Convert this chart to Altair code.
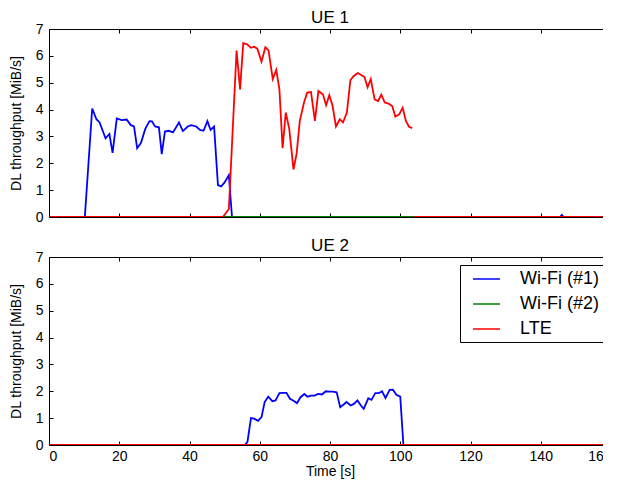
import altair as alt
import pandas as pd

# ---------------- data ----------------
series_names = ["Wi-Fi (#1)", "Wi-Fi (#2)", "LTE"]
series_colors = ["#0000ff", "#008000", "#ff0000"]

# UE 1 - Wi-Fi (#1)
ue1_wifi1_t = [0, 10.2, 12.3, 13.5, 14.4, 16.1, 17.2, 18.1, 19.3, 20.7, 22.1, 23.3, 24.2, 25.1,
               26.2, 27.4, 28.6, 29.3, 30.2, 31.3, 32.1, 33.0, 34.1, 35.3, 37.0, 38.1, 39.5, 40.5,
               41.9, 43.0, 44.0, 45.1, 46.0, 47.0, 48.1, 49.0, 50.0, 51.2, 52.1, 145.5, 146.0,
               146.5, 159.5]
ue1_wifi1_v = [0, 0, 4.04, 3.64, 3.52, 2.93, 3.09, 2.39, 3.67, 3.61, 3.63, 3.42, 3.37, 2.56,
               2.76, 3.28, 3.57, 3.56, 3.37, 3.34, 2.34, 3.18, 3.21, 3.15, 3.52, 3.20, 3.37, 3.42,
               3.37, 3.24, 3.21, 3.57, 3.24, 3.37, 1.19, 1.14, 1.29, 1.56, 0, 0, 0.08,
               0, 0]

# UE 1 - Wi-Fi (#2)
ue1_wifi2_t = [0, 159.5]
ue1_wifi2_v = [0, 0]

# UE 1 - LTE (first segment, then a separate zero segment)
ue1_lte_t = [0, 49.5, 51.2, 53.4, 54.4, 55.3, 56.4, 57.5, 58.4, 59.3, 60.5, 61.6, 62.5, 63.7,
             64.7, 65.6, 66.5, 67.4, 68.4, 69.6, 70.5, 71.4, 72.6, 73.5, 74.6, 75.7, 76.7, 78.0,
             78.9, 79.8, 80.7, 81.7, 82.8, 83.7, 84.8, 85.8, 86.7, 87.9, 88.8, 89.8, 90.7, 91.6,
             92.7, 93.7, 94.6, 95.6, 96.7, 97.7, 98.6, 99.7, 100.7, 101.6, 102.5, 103.4]
ue1_lte_v = [0, 0, 0.3, 6.2, 4.75, 6.47, 6.43, 6.3, 6.34, 6.27, 5.79, 6.32, 6.2, 5.14,
             5.48, 4.75, 2.56, 3.89, 3.28, 1.77, 2.36, 3.58, 4.26, 4.63, 4.65, 3.58, 4.69, 4.56,
             4.16, 4.53, 4.16, 3.37, 3.64, 3.52, 3.89, 5.09, 5.24, 5.36, 5.30, 5.21, 4.83, 5.14,
             4.38, 4.32, 4.56, 4.26, 4.22, 4.13, 3.74, 3.82, 4.07, 3.58, 3.36, 3.31]
ue1_lte_tail_t = [104.0, 159.5]
ue1_lte_tail_v = [0, 0]

# UE 2 - Wi-Fi (#1)
ue2_wifi1_t = [0, 55.8, 56.5, 57.5, 58.4, 59.5, 60.5, 61.4, 62.4, 63.6, 64.5, 65.6, 66.6, 67.6,
               68.6, 69.5, 70.6, 71.6, 72.7, 73.6, 74.6, 75.6, 76.6, 77.7, 78.8, 79.8, 80.8, 81.9,
               82.9, 83.8, 84.7, 85.9, 86.8, 87.8, 88.8, 89.6, 90.9, 91.8, 92.9, 93.9, 94.8, 95.8,
               97.0, 97.9, 98.9, 100.0, 100.9, 159.5]
ue2_wifi1_v = [0, 0, 0.12, 1.0, 0.98, 0.90, 1.04, 1.6, 1.80, 1.63, 1.66, 1.93, 1.94, 1.94,
               1.72, 1.66, 1.56, 1.78, 1.90, 1.80, 1.84, 1.84, 1.90, 1.88, 2.00, 1.99, 1.99, 1.96,
               1.41, 1.50, 1.60, 1.47, 1.53, 1.66, 1.47, 1.35, 1.74, 1.68, 1.93, 1.93, 2.00, 1.75,
               2.05, 2.06, 1.87, 1.80, 0, 0]

# UE 2 - Wi-Fi (#2) and LTE
ue2_wifi2_t = [0, 159.5]
ue2_wifi2_v = [0, 0]
ue2_lte_t = [0, 159.5]
ue2_lte_v = [0, 0]

x_ticks = [0, 20, 40, 60, 80, 100, 120, 140, 160]
y_ticks = [0, 1, 2, 3, 4, 5, 6, 7]


def frame(parts):
    rows = []
    for name, seg, ts, vs in parts:
        for t, v in zip(ts, vs):
            rows.append({"t": t, "v": v, "series": name, "seg": seg})
    return pd.DataFrame(rows)


ue1_df = frame([
    ("Wi-Fi (#1)", "a", ue1_wifi1_t, ue1_wifi1_v),
    ("Wi-Fi (#2)", "a", ue1_wifi2_t, ue1_wifi2_v),
    ("LTE", "a", ue1_lte_t, ue1_lte_v),
    ("LTE", "b", ue1_lte_tail_t, ue1_lte_tail_v),
])
ue2_df = frame([
    ("Wi-Fi (#1)", "a", ue2_wifi1_t, ue2_wifi1_v),
    ("Wi-Fi (#2)", "a", ue2_wifi2_t, ue2_wifi2_v),
    ("LTE", "a", ue2_lte_t, ue2_lte_v),
])

FONT = "Liberation Sans"
W, H = 562, 188


def panel(df, title, bottom_panel):
    xs = alt.Scale(domain=[0, 160], nice=False, zero=False)
    ys = alt.Scale(domain=[0, 7], nice=False, zero=True)

    x_bottom = alt.Axis(orient="bottom", values=x_ticks, offset=-4, tickSize=4, domain=False,
                        grid=False, labels=bottom_panel, labelPadding=4, labelFontSize=14,
                        format="d", title="Time [s]" if bottom_panel else None,
                        titleFontSize=14, titlePadding=1)
    x_top = alt.Axis(orient="top", values=x_ticks, offset=-4, tickSize=4, domain=False,
                     grid=False, labels=False, title=None)
    y_left = alt.Axis(orient="left", values=y_ticks, offset=-4, tickSize=4, domain=False,
                      grid=False, labelPadding=6, labelFontSize=14, format="d",
                      title="DL throughput [MiB/s]", titleFontSize=14, titlePadding=12)
    y_right = alt.Axis(orient="right", values=y_ticks, offset=-4, tickSize=4, domain=False,
                       grid=False, labels=False, title=None)

    if bottom_panel:
        legend = alt.Legend(orient="none", legendX=411, legendY=8, title=None,
                            strokeColor="black", fillColor="white", padding=4,
                            labelFontSize=18, labelFont=FONT, labelColor="black",
                            symbolType="M-1.5,0L1.5,0", symbolSize=324,
                            symbolStrokeWidth=1.5, symbolOffset=12.5, labelOffset=23.5,
                            rowPadding=6, cornerRadius=0)
    else:
        legend = None

    lines = alt.Chart(df).mark_line(strokeWidth=1.8, clip=True).encode(
        x=alt.X("t:Q", scale=xs, axis=x_bottom),
        y=alt.Y("v:Q", scale=ys, axis=y_left),
        color=alt.Color("series:N", scale=alt.Scale(domain=series_names, range=series_colors),
                        sort=series_names, legend=legend),
        detail="seg:N",
    )
    ghost = alt.Chart(df).mark_line(opacity=0).encode(
        x=alt.X("t:Q", scale=xs, axis=x_top),
        y=alt.Y("v:Q", scale=ys, axis=y_right),
        detail="seg:N",
    )
    return alt.layer(lines, ghost).resolve_axis(x="independent", y="independent").properties(
        width=W, height=H,
        title=alt.TitleParams(title, fontSize=17, font=FONT, fontWeight="normal",
                              color="black", anchor="middle", offset=-5, frame="group"),
    )


chart = alt.vconcat(
    panel(ue1_df, "UE 1", False),
    panel(ue2_df, "UE 2", True),
    spacing=11,
).resolve_legend(color="independent").properties(
    padding={"left": 0, "top": 0, "right": -9, "bottom": 0},
    background="white",
).configure_view(
    stroke="black", strokeWidth=1,
).configure_axis(
    labelFont=FONT, titleFont=FONT, labelColor="black", titleColor="black",
    tickColor="black", tickWidth=1, titleFontWeight="normal",
)

chart.save("out.html", embed_options={"renderer": "svg", "actions": False})
